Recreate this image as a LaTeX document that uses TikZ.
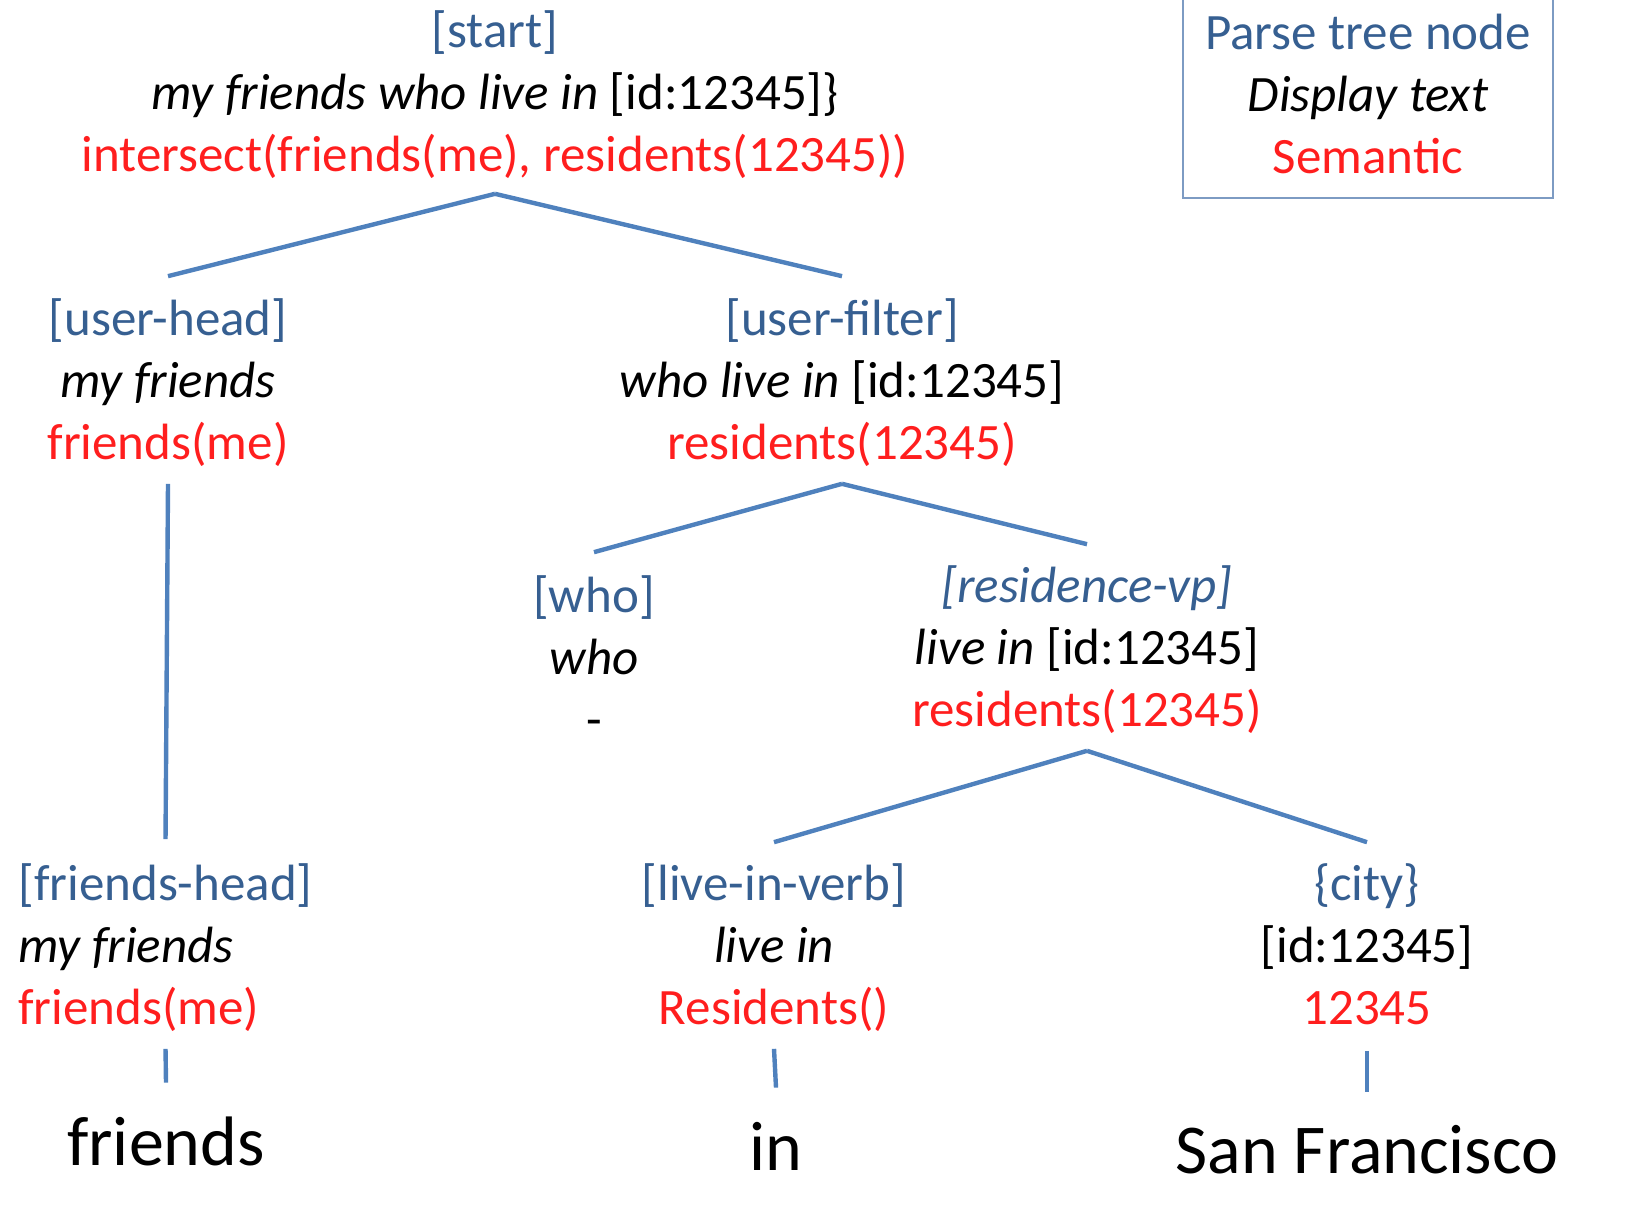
\documentclass[tikz,border=0pt]{standalone}
\usepackage{fontspec}
\setmainfont{Carlito}
\definecolor{nodeblue}{RGB}{54,95,145}
\definecolor{semred}{RGB}{255,30,30}
\definecolor{linkblue}{RGB}{79,129,189}
\definecolor{boxblue}{RGB}{125,155,195}
\newcommand\mystrut{\rule[-6pt]{0pt}{24pt}}
\newcommand\ptn[1]{\textcolor{nodeblue}{#1}}
\newcommand\sem[1]{\textcolor{semred}{#1}}
\begin{document}
\begin{tikzpicture}[x=0.5pt,y=-0.5pt,
  tnode/.style={align=center, inner sep=0pt, font=\fontsize{25.5}{31}\selectfont},
  leaf/.style={inner sep=0pt, anchor=base, text height=26pt, text depth=8pt, font=\fontsize{35}{42}\selectfont},
  conn/.style={draw=linkblue, line width=2.2pt},
  legendbox/.style={draw=boxblue, line width=1.2pt}]
\useasboundingbox (0,0) rectangle (1631,1224);

% legend
\draw[legendbox] (1183,-10) rectangle (1553,198);
\node[tnode] (legend) at (1368,100) {\ptn{Parse tree node}\mystrut\\ \textit{Display text}\mystrut\\ \sem{Semantic}\mystrut};

% tree nodes
\node[tnode] (start) at (495,97) {\ptn{[start]}\mystrut\\ \textit{my friends who live in} [id:12345]\}\mystrut\\ \sem{intersect(friends(me), residents(12345))}\mystrut};
\node[tnode] (uhead) at (168,385) {\ptn{[user-head]}\mystrut\\ \textit{my friends}\mystrut\\ \sem{friends(me)}\mystrut};
\node[tnode] (ufilt) at (842,385) {\ptn{[user-filter]}\mystrut\\ \textit{who live in} [id:12345]\mystrut\\ \sem{residents(12345)}\mystrut};
\node[tnode] (who) at (594,662) {\ptn{[who]}\mystrut\\ \textit{who}\mystrut\\ -\mystrut};
\node[tnode] (rvp) at (1087,652) {\ptn{\textit{[residence-vp]}}\mystrut\\ \textit{live in} [id:12345]\mystrut\\ \sem{residents(12345)}\mystrut};
\node[tnode, align=left, anchor=west] (fhead) at (18,950) {\ptn{[friends-head]}\mystrut\\ \textit{my friends}\mystrut\\ \sem{friends(me)}\mystrut};
\node[tnode] (liv) at (774,950) {\ptn{[live-in-verb]}\mystrut\\ \textit{live in}\mystrut\\ \sem{Residents()}\mystrut};
\node[tnode] (city) at (1367,950) {\ptn{\{city\}}\mystrut\\ {[id:12345]}\mystrut\\ \sem{12345}\mystrut};

% leaves
\node[leaf] (wfriends) at (166,1165) {friends};
\node[leaf] (win) at (776,1170) {in};
\node[leaf] (wsf) at (1367,1173) {San Francisco};

% connectors
\draw[conn] ([yshift=-5pt]start.south) -- ([yshift=11pt]uhead.north);
\draw[conn] ([yshift=-5pt]start.south) -- ([yshift=11pt]ufilt.north);
\draw[conn] ([yshift=-6pt]uhead.south) -- ([yshift=12pt]fhead.north);
\draw[conn] ([yshift=-6pt]ufilt.south) -- ([yshift=11.5pt]who.north);
\draw[conn] ([yshift=-6pt]ufilt.south) -- ([yshift=10.5pt]rvp.north);
\draw[conn] ([yshift=-6pt]rvp.south) -- ([yshift=10.5pt]liv.north);
\draw[conn] ([yshift=-6pt]rvp.south) -- ([yshift=10.5pt]city.north);
\draw[conn] ([yshift=-6pt]fhead.south) -- ([yshift=15pt]wfriends.north);
\draw[conn] ([yshift=-6pt]liv.south) -- ([yshift=15pt]win.north);
\draw[conn] ([yshift=-7pt]city.south) -- ([yshift=14.5pt]wsf.north);
\end{tikzpicture}
\end{document}
